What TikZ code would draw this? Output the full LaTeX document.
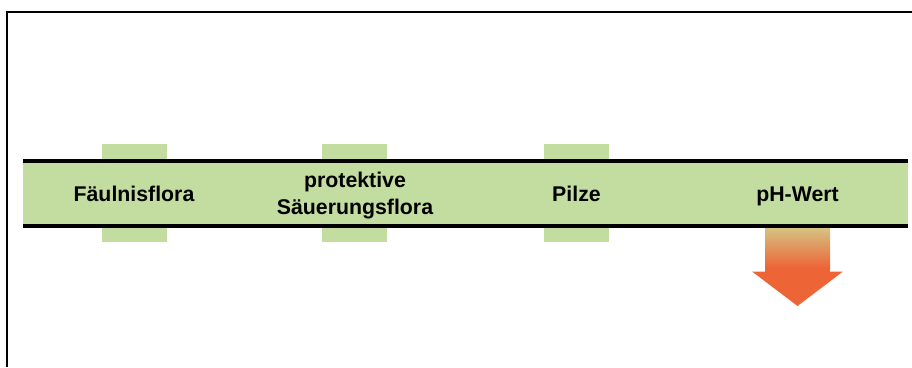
\documentclass[tikz,border=0pt]{standalone}
\usepackage{fontspec}
\setmainfont{Liberation Sans}
\definecolor{bandgreen}{RGB}{195,220,160}
\definecolor{arrtan}{RGB}{214,194,130}
\definecolor{arrorange}{RGB}{237,100,55}
\begin{document}
\begin{tikzpicture}[x=1pt,y=-1pt,
  lbl/.style={font=\fontsize{21.3}{26.6}\selectfont\bfseries, align=center, inner sep=0pt},
  tab/.style={fill=bandgreen, draw=none, inner sep=0pt, minimum width=65pt, minimum height=98pt},
  bandline/.style={line width=3.4pt, black},
  frameline/.style={line width=2pt, black}]
\useasboundingbox (0,0) rectangle (912,367);
% frame
\draw[frameline] (7,367) -- (7,12) -- (912,12);
% tabs behind the band
\node[tab] (t1) at (134.5,193) {};
\node[tab] (t2) at (354.5,193) {};
\node[tab] (t3) at (576.5,193) {};
% band
\node[fill=bandgreen, inner sep=0pt, minimum width=885pt, minimum height=66pt] (band) at (465.5,193) {};
\draw[bandline] (23,161) -- (908,161);
\draw[bandline] (23,226) -- (908,226);
% labels
\node[lbl, anchor=base] (l1) at (134,201.5) {Fäulnisflora};
\node[lbl, anchor=center] (l2) at (355,195.6) {protektive\\Säuerungsflora};
\node[lbl, anchor=base] (l3) at (576.5,201.5) {Pilze};
\node[lbl, anchor=base] (l4) at (797.5,201.5) {pH-Wert};
% arrow
\shade[top color=arrtan, bottom color=arrorange] (765,228) rectangle (830,268);
\fill[arrorange] (765,267.5) rectangle (830,272);
\fill[arrorange] (752,271.5) -- (843,271.5) -- (797.5,306) -- cycle;
\end{tikzpicture}
\end{document}
